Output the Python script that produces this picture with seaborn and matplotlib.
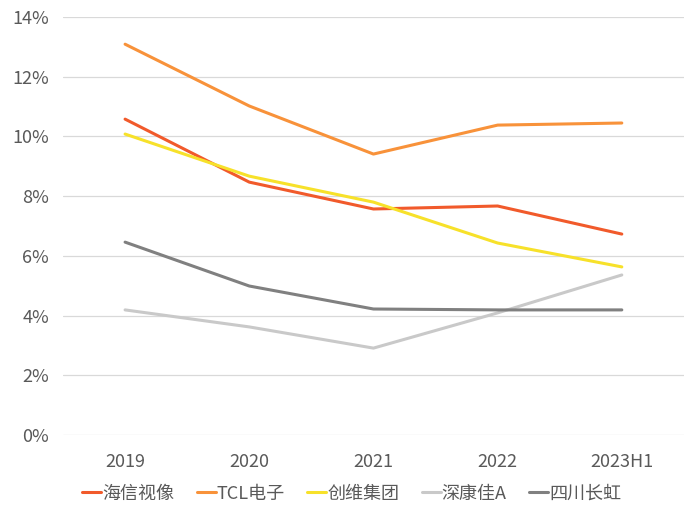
import pandas as pd
import matplotlib
matplotlib.use("Agg")
import matplotlib.pyplot as plt
import seaborn as sns

years = ["2019", "2020", "2021", "2022", "2023H1"]
hisense = [10.58, 8.47, 7.57, 7.67, 6.73]
tcl = [13.09, 11.02, 9.41, 10.38, 10.45]
skyworth = [10.08, 8.67, 7.80, 6.43, 5.63]
konka = [4.19, 3.62, 2.91, 4.09, 5.36]
changhong = [6.46, 4.99, 4.22, 4.19, 4.19]
names = ["海信视像", "TCL电子", "创维集团", "深康佳A", "四川长虹"]
colors = ["#F15A2B", "#F8923A", "#F7E12A", "#C9C9C9", "#808080"]

df = pd.DataFrame({"year": years * 5,
                   "company": [n for n in names for _ in years],
                   "value": hisense + tcl + skyworth + konka + changhong})

sns.set_style("white")
plt.rcParams["font.family"] = ["Noto Sans CJK SC", "DejaVu Sans"]

fig = plt.figure(figsize=(7, 5.16), dpi=100)
ax = fig.add_axes([0.09, 0.157, 0.887, 0.81])
sns.lineplot(data=df, x="year", y="value", hue="company", hue_order=names,
             palette=colors, linewidth=2.2, sort=False, ax=ax)

ax.set_xlim(-0.5, 4.5)
ax.set_ylim(0, 14)
ax.set_yticks(range(0, 15, 2))
ax.set_yticklabels([f"{v}%" for v in range(0, 15, 2)])
ax.grid(axis="y", color="#D9D9D9", linewidth=0.9)
ax.set_axisbelow(True)
for s in ax.spines.values():
    s.set_visible(False)
ax.tick_params(axis="y", length=0, labelsize=13, colors="#595959", pad=10)
ax.tick_params(axis="x", length=0, labelsize=13, colors="#595959", pad=13)
ax.set_xlabel("")
ax.set_ylabel("")

ax.legend(loc="center", bbox_to_anchor=(0.465, -0.14), ncol=5, frameon=False,
          fontsize=13, handlelength=1.05, handletextpad=0.05, columnspacing=1.25,
          labelcolor="#595959")

fig.savefig("out.png", dpi=100)
